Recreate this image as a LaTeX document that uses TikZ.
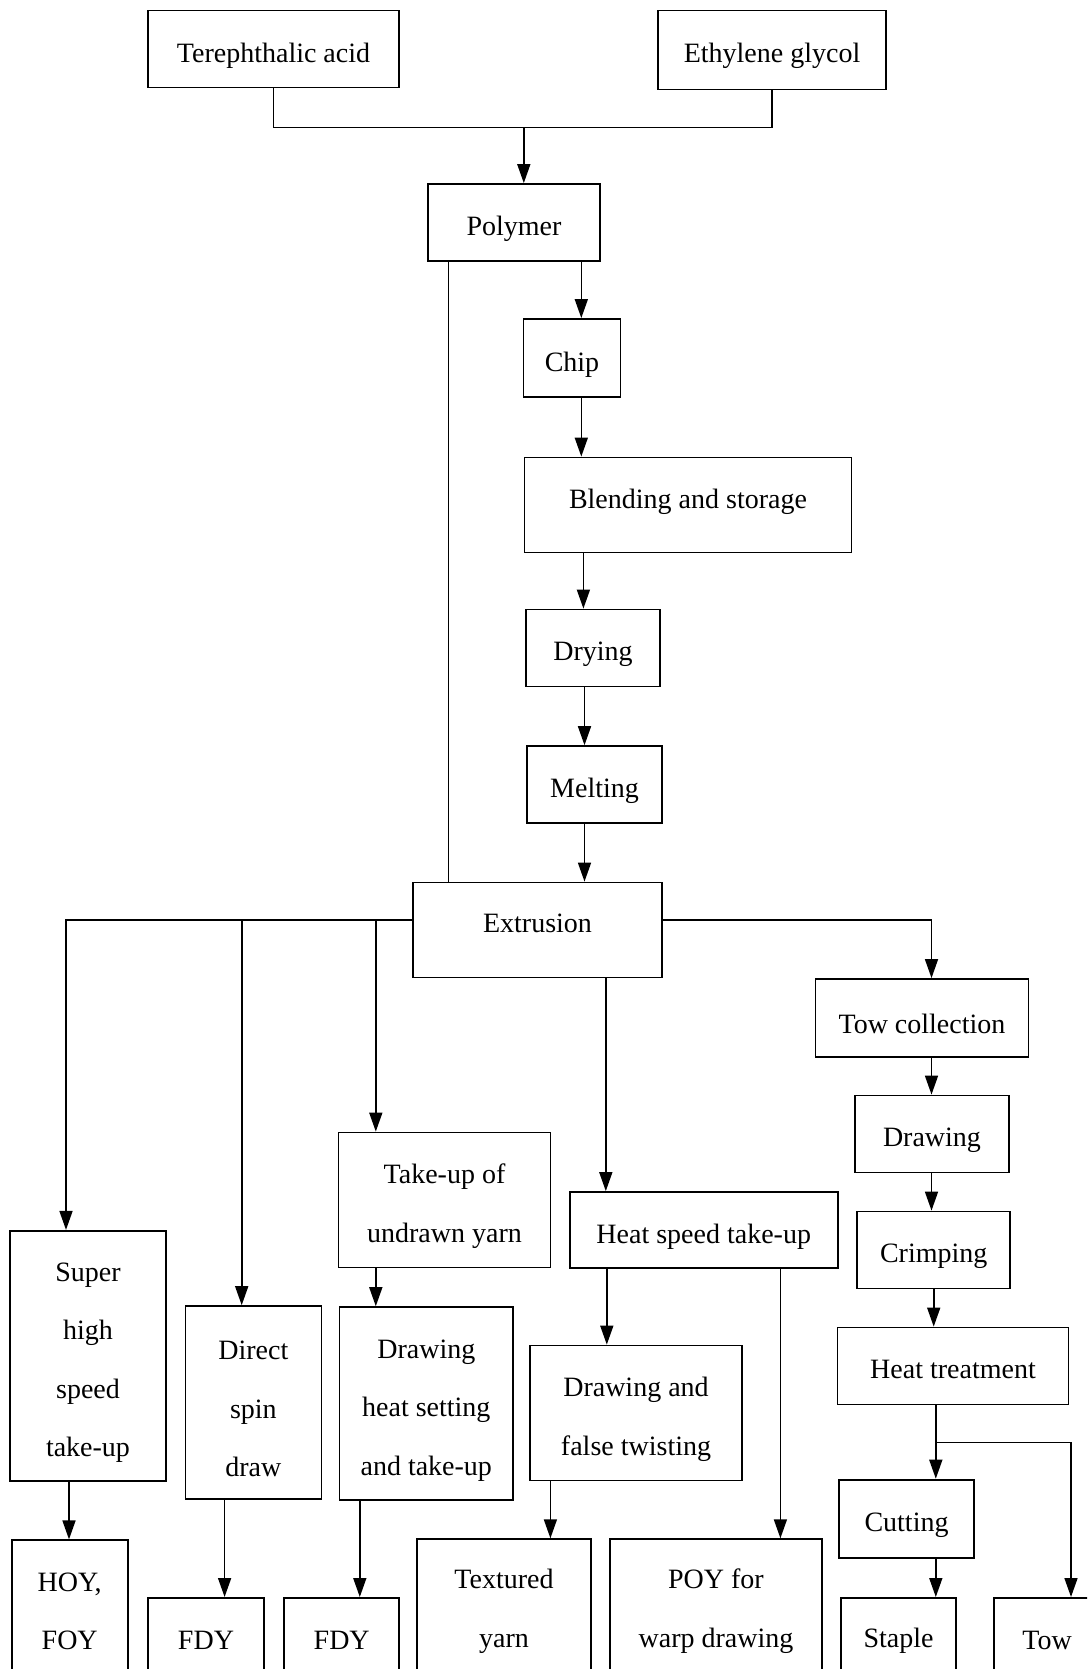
\documentclass[tikz,border=0pt]{standalone}
\usepackage{fontspec}
\setmainfont{Liberation Serif}
\usetikzlibrary{arrows.meta}
\newcommand{\lift}{\rule{0pt}{32pt}}

\tikzset{
	base/.style={draw, line width=1.8pt, inner sep=0pt, align=center},
	box/.style={base, execute at begin node={\lift}},
	endbox/.style={base, anchor=north},
	line/.style={draw, line width=1.4pt},
	arr/.style={draw, line width=1.6pt, -{Triangle[length=19pt,width=13pt]}}
}

\begin{document}
\begin{tikzpicture}[x=1pt, y=-1pt, font=\fontsize{28}{58.5}\selectfont]
			%%%%% START %%%%%
			
			\useasboundingbox (0,0) rectangle (1087,1669);
			\clip (0,0) rectangle (1087,1669);
			
			% raw materials and polymer
			\node[box, minimum width=251pt, minimum height=77pt] (tere) at (273.5,49) {Terephthalic acid};
			\node[box, minimum width=228pt, minimum height=79pt] (eth) at (772,50) {Ethylene glycol};
			\node[box, minimum width=172pt, minimum height=77pt] (poly) at (514,222.5) {Polymer};
			
			\coordinate (join) at (523.8,127.8);
			\draw[line] (tere.south) |- (join) -| (eth.south);
			\draw[arr] (join) -- (join |- poly.north);
			
			% chip route
			\node[box, minimum width=97pt, minimum height=78pt] (chip) at (572,358) {Chip};
			\node[base, text depth=12pt, minimum width=327pt, minimum height=95pt] (blend) at (688,505) {Blending and storage};
			\node[box, minimum width=134pt, minimum height=77pt] (dry) at (593,648) {Drying};
			\node[box, minimum width=135pt, minimum height=77pt] (melt) at (594.5,784.6) {Melting};
			\node[base, text depth=14pt, minimum width=249pt, minimum height=95pt] (extr) at (537.5,930) {Extrusion};
			
			\draw[arr] (581.3,0 |- poly.south) -- (581.3,0 |- chip.north);
			\draw[arr] (581.3,0 |- chip.south) -- (581.3,0 |- blend.north);
			\draw[arr] (583.4,0 |- blend.south) -- (583.4,0 |- dry.north);
			\draw[arr] (584.5,0 |- dry.south) -- (584.5,0 |- melt.north);
			\draw[arr] (584.5,0 |- melt.south) -- (584.5,0 |- extr.north);
			\draw[line] (448.2,0 |- poly.south) -- (448.2,0 |- extr.north);
			
			% staple and tow
			\node[box, minimum width=213pt, minimum height=78pt] (towc) at (922,1018) {Tow collection};
			\node[box, minimum width=154pt, minimum height=77pt] (drw) at (932,1134) {Drawing};
			\node[box, minimum width=153pt, minimum height=77pt] (crimp) at (933.7,1250) {Crimping};
			\node[base, minimum width=231pt, minimum height=77pt] (heat) at (953,1366) {\rule{0pt}{26pt}Heat treatment};
			\node[box, minimum width=135pt, minimum height=78pt] (cut) at (906.5,1518.6) {Cutting};
			\node[endbox, minimum width=115pt, minimum height=85pt] (staple) at (898.5,1597) {Staple};
			\node[endbox, minimum width=106pt, minimum height=85pt] (tow) at (1047,1597) {Tow};
			
			\coordinate (splitR) at ([yshift=10pt]extr.east);
			\draw[arr] (splitR) -| (931.5,0 |- towc.north);
			\draw[arr] (931.5,0 |- towc.south) -- (931.5,0 |- drw.north);
			\draw[arr] (931.5,0 |- drw.south) -- (931.5,0 |- crimp.north);
			\draw[arr] (933.7,0 |- crimp.south) -- (933.7,0 |- heat.north);
			
			\coordinate (fork) at (935.8,1442.5);
			\draw[line] (935.8,0 |- heat.south) -- (fork);
			\draw[arr] (fork) -- (fork |- cut.north);
			\draw[arr] (fork) -| (1071,0 |- tow.north);
			\draw[arr] (935.8,0 |- cut.south) -- (935.8,0 |- staple.north);
			
			% filament yarns
			\node[base, minimum width=156.5pt, minimum height=250pt] (sup) at (88,1355.8) {\lift Super\\high\\speed\\take-up};
			\node[base, minimum width=136pt, minimum height=193pt] (direct) at (253.4,1402.6) {\lift Direct\\spin\\draw};
			\node[base, minimum width=212pt, minimum height=135pt] (takeup) at (444.5,1200) {\lift Take-up of\\undrawn yarn};
			\node[base, minimum width=173.5pt, minimum height=193pt] (dhs) at (426.3,1403.6) {\lift Drawing\\heat setting\\and take-up};
			\node[box, minimum width=268pt, minimum height=76pt] (hs) at (703.7,1230) {Heat speed take-up};
			\node[base, minimum width=212pt, minimum height=135pt] (dft) at (636,1413) {\lift Drawing and\\false twisting};
			
			\node[endbox, minimum width=116pt, minimum height=142pt] (hoy) at (69.7,1539.4) {HOY,\\FOY};
			\node[endbox, minimum width=116pt, minimum height=85pt] (fdya) at (206,1597) {FDY};
			\node[endbox, minimum width=115pt, minimum height=85pt] (fdyb) at (341.7,1597) {FDY};
			\node[endbox, minimum width=174pt, minimum height=144pt] (tex) at (504,1538.3) {Textured\\yarn};
			\node[endbox, minimum width=212pt, minimum height=144pt] (poy) at (716,1538.3) {POY for\\warp drawing};
			
			\coordinate (splitL) at ([yshift=10pt]extr.west);
			\draw[arr] (splitL) -| (66,0 |- sup.north);
			\draw[arr] (241.7,0 |- splitL) -- (241.7,0 |- direct.north);
			\draw[arr] (375.8,0 |- splitL) -- (375.8,0 |- takeup.north);
			\draw[arr] (605.8,0 |- extr.south) -- (605.8,0 |- hs.north);
			
			\draw[arr] (69,0 |- sup.south) -- (69,0 |- hoy.north);
			\draw[arr] (224.6,0 |- direct.south) -- (224.6,0 |- fdya.north);
			\draw[arr] (375.8,0 |- takeup.south) -- (375.8,0 |- dhs.north);
			\draw[arr] (359.8,0 |- dhs.south) -- (359.8,0 |- fdyb.north);
			\draw[arr] (606.8,0 |- hs.south) -- (606.8,0 |- dft.north);
			\draw[arr] (780.4,0 |- hs.south) -- (780.4,0 |- poy.north);
			\draw[arr] (550.4,0 |- dft.south) -- (550.4,0 |- tex.north);
			
			%%%%% END %%%%%
\end{tikzpicture}
\end{document}
